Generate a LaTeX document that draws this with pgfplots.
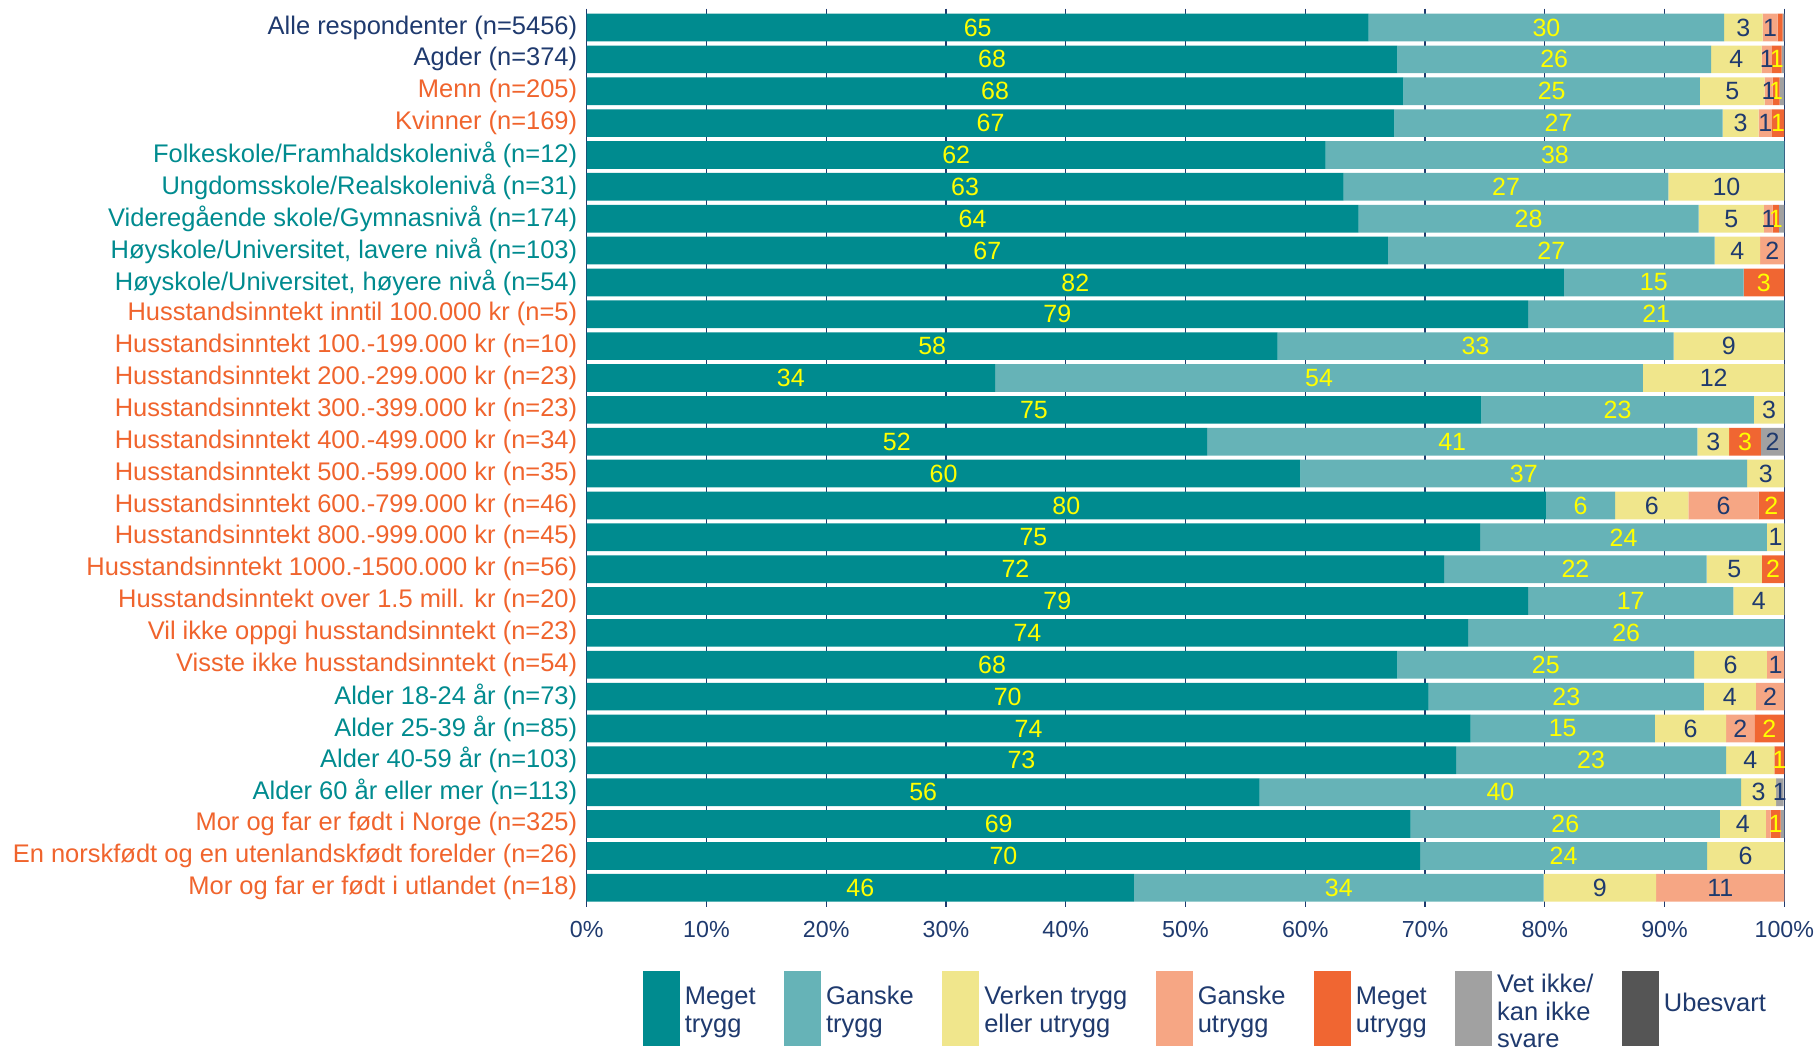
\documentclass[border=0pt]{standalone}
\usepackage{fontspec}
\setmainfont{Liberation Sans}
\usepackage{pgfplots}
\usepackage{pgfplotstable}
\pgfplotsset{compat=1.18}
\definecolor{mt}{RGB}{0,139,143}
\definecolor{gt}{RGB}{102,179,183}
\definecolor{vk}{RGB}{240,230,140}
\definecolor{gu}{RGB}{246,166,132}
\definecolor{mu}{RGB}{240,102,50}
\definecolor{vi}{RGB}{161,161,161}
\definecolor{ub}{RGB}{85,85,85}
\definecolor{navy}{RGB}{31,58,110}
\definecolor{lor}{RGB}{240,100,45}
\definecolor{lte}{RGB}{0,139,143}
\definecolor{ylw}{RGB}{255,255,0}
\newcommand\N{\color{navy}}
\newcommand\Or{\color{lor}}
\newcommand\T{\color{lte}}
\newcommand\seglabel[1]{\ifdim#1pt<0.5pt\else\pgfmathprintnumber[fixed,precision=0]{#1}\fi}
\newcommand\lgt[1]{\fontsize{10.2}{11.1}\selectfont\begin{tabular}[c]{@{}l@{}}#1\end{tabular}}

\pgfplotstableread{
y a b c d e f g
0 65.3 29.67 3.23 1.24 0.41 0.15 0
1 67.7 26.18 4.22 0.86 0.81 0.23 0
2 68.2 24.76 5.39 0.67 0.58 0.40 0
3 67.45 27.4 3.0 1.11 1.04 0 0
4 61.7 38.3 0 0 0 0 0
5 63.2 27.13 9.67 0 0 0 0
6 64.45 28.4 5.45 0.72 0.53 0.45 0
7 66.9 27.29 3.79 2.02 0 0 0
8 81.6 15.0 0 0 3.4 0 0
9 78.6 21.4 0 0 0 0 0
10 57.7 33.05 9.25 0 0 0 0
11 34.1 54.1 11.8 0 0 0 0
12 74.7 22.75 2.55 0 0 0 0
13 51.8 40.94 2.65 0 2.65 1.96 0
14 59.6 37.3 3.1 0 0 0 0
15 80.1 5.77 6.13 5.85 2.15 0 0
16 74.6 23.95 1.45 0 0 0 0
17 71.6 21.92 4.6 0 1.88 0 0
18 78.6 17.15 4.25 0 0 0 0
19 73.6 26.4 0 0 0 0 0
20 67.7 24.78 6.07 1.45 0 0 0
21 70.3 22.99 4.33 2.38 0 0 0
22 73.8 15.39 5.95 2.37 2.49 0 0
23 72.6 22.54 4.04 0 0.82 0 0
24 56.2 40.19 2.93 0 0 0.62 0.06
25 68.8 25.83 3.83 0.39 0.85 0.30 0
26 69.6 23.95 6.45 0 0 0 0
27 45.7 34.2 9.4 10.7 0 0 0
}\data

\pgfplotsset{
  seg/.style n args={3}{fill=#1, draw=none,
    visualization depends on={\thisrow{#2}\as\segw},
    nodes near coords={\seglabel{\segw}},
    every node near coord/.append style={text=#3},
  },
}

\begin{document}
\begin{tikzpicture}
\begin{axis}[
  xbar stacked,
  scale only axis,
  width=479.5pt, height=359.6pt,
  xmin=0, xmax=100,
  ymin=-0.59, ymax=27.6,
  y dir=reverse,
  bar width=0.869,
  every node near coord/.append style={anchor=center, inner sep=0pt,
      font=\fontsize{10}{11}\selectfont},
  ytick={0,...,27},
  yticklabels={
    {\N Alle respondenter (n=5456)},
    {\N Agder (n=374)},
    {\Or Menn (n=205)},
    {\Or Kvinner (n=169)},
    {\T Folkeskole/Framhaldskolenivå (n=12)},
    {\T Ungdomsskole/Realskolenivå (n=31)},
    {\T Videregående skole/Gymnasnivå (n=174)},
    {\T Høyskole/Universitet, lavere nivå (n=103)},
    {\T Høyskole/Universitet, høyere nivå (n=54)},
    {\Or Husstandsinntekt inntil 100.000 kr (n=5)},
    {\Or Husstandsinntekt 100.-199.000 kr (n=10)},
    {\Or Husstandsinntekt 200.-299.000 kr (n=23)},
    {\Or Husstandsinntekt 300.-399.000 kr (n=23)},
    {\Or Husstandsinntekt 400.-499.000 kr (n=34)},
    {\Or Husstandsinntekt 500.-599.000 kr (n=35)},
    {\Or Husstandsinntekt 600.-799.000 kr (n=46)},
    {\Or Husstandsinntekt 800.-999.000 kr (n=45)},
    {\Or Husstandsinntekt 1000.-1500.000 kr (n=56)},
    {\Or Husstandsinntekt over 1.5 mill. kr (n=20)},
    {\Or Vil ikke oppgi husstandsinntekt (n=23)},
    {\Or Visste ikke husstandsinntekt (n=54)},
    {\T Alder 18-24 år (n=73)},
    {\T Alder 25-39 år (n=85)},
    {\T Alder 40-59 år (n=103)},
    {\T Alder 60 år eller mer (n=113)},
    {\Or Mor og far er født i Norge (n=325)},
    {\Or En norskfødt og en utenlandskfødt forelder (n=26)},
    {\Or Mor og far er født i utlandet (n=18)}
  },
  xtick={0,10,...,100},
  xticklabels={0\%,10\%,20\%,30\%,40\%,50\%,60\%,70\%,80\%,90\%,100\%},
  /pgf/number format/assume math mode=true,
  xmajorgrids=true,
  grid style={navy, line width=0.5pt},
  axis line style={draw=none},
  major tick length=0pt,
  tick style={draw=none},
  yticklabel style={font=\fontsize{10.2}{12}\selectfont, inner sep=0pt, xshift=-3.6pt},
  xticklabel style={font=\fontsize{9.3}{11}\selectfont, text=navy, inner sep=0pt, yshift=-5.5pt},
  legend columns=7,
  legend style={draw=none, at={(0,0)}, anchor=north west, xshift=22.3pt, yshift=-21.8pt,
    inner sep=0pt, font=\fontsize{10.2}{11.1}\selectfont, text=navy,
    cells={anchor=west},
    /tikz/every odd column/.append style={column sep=0pt},
    /tikz/every even column/.append style={column sep=9.4pt}},
  legend image code/.code={\path (0pt,17pt); \fill[#1] (0pt,-16.85pt) rectangle (14.8pt,13.15pt);},
]
\addplot[seg={mt}{a}{ylw}] table[x=a,y=y]{\data};
\addlegendentry{\lgt{Meget\\trygg}}
\addplot[seg={gt}{b}{ylw}] table[x=b,y=y]{\data};
\addlegendentry{\lgt{Ganske\\trygg}}
\addplot[seg={vk}{c}{navy}] table[x=c,y=y]{\data};
\addlegendentry{\lgt{Verken trygg\\eller utrygg}}
\addplot[seg={gu}{d}{navy}] table[x=d,y=y]{\data};
\addlegendentry{\lgt{Ganske\\utrygg}}
\addplot[seg={mu}{e}{ylw}] table[x=e,y=y]{\data};
\addlegendentry{\lgt{Meget\\utrygg}}
\addplot[seg={vi}{f}{navy}] table[x=f,y=y]{\data};
\addlegendentry{\raisebox{2.2pt}[\height][\depth]{\lgt{Vet ikke/\\kan ikke\\svare}}}
\addplot[seg={ub}{g}{navy}] table[x=g,y=y]{\data};
\addlegendentry{\lgt{Ubesvart}}
\end{axis}
\path (-234.9pt,-56.5pt) rectangle (490.7pt,363.1pt);
\end{tikzpicture}
\end{document}
